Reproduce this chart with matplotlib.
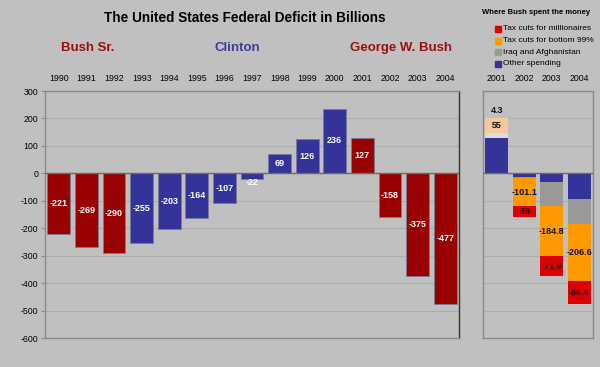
import matplotlib.pyplot as plt
import numpy as np

plt.rcParams['font.family'] = ['Liberation Sans', 'DejaVu Sans']
plt.rcParams['axes.unicode_minus'] = False

years = [1990, 1991, 1992, 1993, 1994, 1995, 1996, 1997, 1998, 1999, 2000, 2001, 2002, 2003, 2004]
deficit = [-221, -269, -290, -255, -203, -164, -107, -22, 69, 126, 236, 127, -158, -375, -477]
party = ['R', 'R', 'R', 'D', 'D', 'D', 'D', 'D', 'D', 'D', 'D', 'R', 'R', 'R', 'R']

bush_years = ['2001', '2002', '2003', '2004']
other_spending = [127, -12, -33, -95]
iraq_afghan = [20, -6, -85, -89]
tax_bottom = [55, -101.1, -184.8, -206.6]
tax_millionaires = [4.3, -39, -71.9, -86.4]

RED = '#990000'
BLUE = '#333399'
BG = '#c0c0c0'

fig = plt.figure(figsize=(6, 3.67), dpi=100, facecolor=BG)
ax = fig.add_axes([45/600, 1 - 338/367, 414/600, 247/367])
ax2 = fig.add_axes([483/600, 1 - 338/367, 110/600, 247/367])

for a in (ax, ax2):
    a.set_facecolor(BG)
    a.set_ylim(-600, 300)
    a.set_yticks(np.arange(-600, 301, 100))
    a.grid(axis='y', color='#adadad', linewidth=0.8)
    a.set_axisbelow(True)
    a.xaxis.tick_top()
    a.tick_params(axis='x', length=0, labelsize=6.3, pad=6)
    for s in a.spines.values():
        s.set_color('#8a8a8a')
        s.set_linewidth(1)

# main chart
x = np.arange(len(years))
colors = [RED if p == 'R' else BLUE for p in party]
ax.bar(x, deficit, width=0.82, color=colors, edgecolor='#7a7a9a', linewidth=0.6, zorder=2)
ax.axhline(0, color='#6a6a6a', linewidth=1, zorder=3)
ax.set_xlim(-0.5, len(years) - 0.5)
ax.set_xticks(x)
ax.set_xticklabels([str(y) for y in years])
ax.tick_params(axis='y', labelsize=6.3, length=3, color='#8a8a8a', pad=2)
ax.spines['right'].set_color('#333333')
for xi, v in zip(x, deficit):
    if abs(v) < 40:
        yy = v - 10
    else:
        yy = v / 2
    ax.text(xi, yy, str(v), ha='center', va='center', color='white',
            fontsize=6.5, fontweight='bold', zorder=4)

# right chart
x2 = np.arange(len(bush_years))
faded = [True, False, False, False]
series = [
    (other_spending, BLUE, BLUE),
    (iraq_afghan, '#999999', '#dcdcdc'),
    (tax_bottom, '#ff9900', '#f9c89a'),
    (tax_millionaires, '#dd0000', '#f2b0a0'),
]
pos_base = np.zeros(4)
neg_base = np.zeros(4)
for vals, col, fcol in series:
    vals = np.array(vals, dtype=float)
    base = np.where(vals >= 0, pos_base, neg_base)
    cols = [fcol if f else col for f in faded]
    ax2.bar(x2, vals, width=0.82, bottom=base, color=cols, linewidth=0, zorder=2)
    if col in ('#ff9900', '#dd0000'):
        for i, v in enumerate(vals):
            if col == '#dd0000' and v > 0:
                ax2.text(x2[i], base[i] + v + 22, f'{v:g}', ha='center', va='center',
                         fontsize=6.5, fontweight='bold', color='#111111', zorder=4)
            else:
                ax2.text(x2[i], base[i] + v / 2, f'{v:g}', ha='center', va='center',
                         fontsize=6.5, fontweight='bold',
                         color='#111111' if col == '#ff9900' else '#330000', zorder=4)
    pos_base = pos_base + np.where(vals >= 0, vals, 0)
    neg_base = neg_base + np.where(vals < 0, vals, 0)
ax2.axhline(0, color='#6a6a6a', linewidth=1, zorder=3)
ax2.set_xlim(-0.5, 3.5)
ax2.set_xticks(x2)
ax2.set_xticklabels(bush_years)
ax2.tick_params(axis='y', length=0, labelleft=False)

# titles
fig.text(245/600, 1 - 18/367, 'The United States Federal Deficit in Billions',
         ha='center', va='center', fontsize=9.8, fontweight='bold', color='black')
fig.text(88/600, 1 - 48/367, 'Bush Sr.', ha='center', va='center',
         fontsize=9.5, fontweight='bold', color='#9a1010')
fig.text(237/600, 1 - 48/367, 'Clinton', ha='center', va='center',
         fontsize=9.5, fontweight='bold', color='#3d3d99')
fig.text(401/600, 1 - 48/367, 'George W. Bush', ha='center', va='center',
         fontsize=9.5, fontweight='bold', color='#9a1010')

# legend
fig.text(536/600, 1 - 13/367, 'Where Bush spent the money', ha='center', va='center',
         fontsize=5.5, fontweight='bold')
leg_labels = ['Tax cuts for millionaires', 'Tax cuts for bottom 99%',
              'Iraq and Afghanistan', 'Other spending']
leg_colors = ['#dd0000', '#ff9900', '#999999', BLUE]
for i, (lab, col) in enumerate(zip(leg_labels, leg_colors)):
    yy = 1 - (29 + i * 11.6) / 367
    fig.patches.append(plt.Rectangle((495/600, yy - 3/367), 6/600, 6/367,
                                     transform=fig.transFigure, color=col, figure=fig))
    fig.text(503/600, yy, lab, ha='left', va='center', fontsize=6)

fig.savefig('out.png', dpi=100, facecolor=BG)
